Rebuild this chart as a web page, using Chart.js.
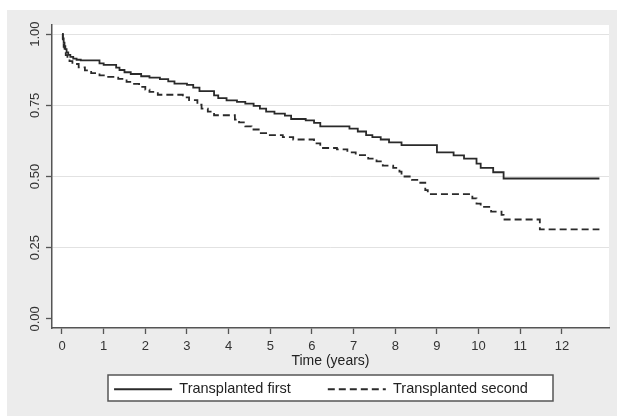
<!DOCTYPE html>
<html>
<head>
<meta charset="utf-8">
<title>Survival by transplant order</title>
<script src="https://cdn.jsdelivr.net/npm/chart.js@4.4.1/dist/chart.umd.min.js"></script>
<style>
  html, body { margin: 0; padding: 0; background: #fff; }
  #km { display: block; }
</style>
</head>
<body>
<canvas id="km" width="618" height="417"></canvas>
<script>
// Kaplan-Meier estimates (time in years, survival)
const firstTimes = [0, 0.02, 0.04, 0.06, 0.08, 0.11, 0.15, 0.2, 0.27, 0.35, 0.45, 0.9, 1.0, 1.3, 1.38,
  1.5, 1.65, 1.9, 2.1, 2.35, 2.55, 2.7, 3.0, 3.15, 3.3, 3.65, 3.75, 3.95, 4.2, 4.4, 4.6, 4.75, 4.9,
  5.1, 5.35, 5.5, 5.85, 6.05, 6.2, 6.9, 7.1, 7.3, 7.45, 7.65, 7.85, 8.15, 9.0, 9.4, 9.65, 9.95,
  10.05, 10.35, 10.6, 12.9];
const firstSurv = [1.0, 0.985, 0.97, 0.958, 0.947, 0.936, 0.927, 0.92, 0.914, 0.91, 0.908, 0.897, 0.892,
  0.882, 0.874, 0.866, 0.86, 0.852, 0.847, 0.842, 0.834, 0.826, 0.822, 0.812, 0.8, 0.785, 0.775,
  0.767, 0.762, 0.756, 0.748, 0.738, 0.728, 0.721, 0.714, 0.702, 0.697, 0.688, 0.676, 0.668, 0.658,
  0.645, 0.638, 0.63, 0.62, 0.61, 0.585, 0.574, 0.563, 0.545, 0.53, 0.515, 0.493, 0.493];

const secondTimes = [0, 0.02, 0.04, 0.06, 0.09, 0.13, 0.18, 0.25, 0.4, 0.55, 0.7, 0.9, 1.05, 1.35, 1.55,
  1.7, 1.85, 2.0, 2.1, 2.3, 2.9, 3.05, 3.25, 3.35, 3.5, 3.65, 4.15, 4.25, 4.4, 4.55, 4.75, 4.9, 5.3,
  5.55, 6.05, 6.2, 6.6, 6.85, 7.05, 7.35, 7.55, 7.7, 7.95, 8.1, 8.15, 8.4, 8.6, 8.72, 8.78, 9.85,
  9.95, 10.05, 10.3, 10.55, 10.6, 11.47, 12.9];
const secondSurv = [1.0, 0.975, 0.955, 0.94, 0.926, 0.914, 0.905, 0.895, 0.883, 0.873, 0.863, 0.855,
  0.85, 0.843, 0.832, 0.825, 0.815, 0.805, 0.797, 0.787, 0.778, 0.768, 0.752, 0.738, 0.728, 0.715,
  0.70, 0.69, 0.676, 0.665, 0.652, 0.645, 0.638, 0.63, 0.616, 0.60, 0.595, 0.585, 0.575, 0.563,
  0.553, 0.538, 0.53, 0.517, 0.50, 0.488, 0.478, 0.452, 0.438, 0.423, 0.405, 0.393, 0.377, 0.365,
  0.349, 0.314, 0.314];

const seriesNames = ['Transplanted first', 'Transplanted second'];
const xTicks = [0, 1, 2, 3, 4, 5, 6, 7, 8, 9, 10, 11, 12];
const yTicks = [0, 0.25, 0.5, 0.75, 1];
const xRange = [-0.24, 13.13];
const yRange = [-0.032, 1.032];

const FONT = "'Liberation Sans', Arial, sans-serif";
const INK = '#2a2a2a';
const AXIS = '#555';

const toPoints = (ts, ss) => ts.map((t, i) => ({ x: t, y: ss[i] }));

// Stata-like backdrop: gray graph region, white plot region, framed legend
const backdrop = {
  id: 'backdrop',
  afterLayout(chart) {
    // park the legend inside its frame, the way Stata places it
    const lg = chart.legend;
    if (!lg) return;
    const h = lg.height;
    lg.left = 33;
    lg.top = 345;
    lg.bottom = 345 + h;
  },
  beforeDraw(chart) {
    const { ctx, chartArea: a } = chart;
    ctx.save();
    ctx.fillStyle = '#fff';
    ctx.fillRect(0, 0, chart.width, chart.height);
    ctx.fillStyle = '#ececec';
    ctx.fillRect(7, 10, 610, 406);
    ctx.fillStyle = '#fff';
    ctx.fillRect(a.left, a.top, a.right - a.left, a.bottom - a.top);
    const cx = (a.left + a.right) / 2;
    ctx.fillRect(cx - 222.5, 375, 445, 26);
    ctx.strokeStyle = AXIS;
    ctx.lineWidth = 1.5;
    ctx.strokeRect(cx - 222.5, 375, 445, 26);
    ctx.restore();
  }
};

new Chart(document.getElementById('km'), {
  type: 'line',
  data: {
    datasets: [
      {
        label: seriesNames[0],
        data: toPoints(firstTimes, firstSurv),
        borderColor: INK,
        borderWidth: 1.8,
        stepped: true,
        pointRadius: 0,
        fill: false
      },
      {
        label: seriesNames[1],
        data: toPoints(secondTimes, secondSurv),
        borderColor: INK,
        borderWidth: 1.8,
        borderDash: [7, 4],
        stepped: true,
        pointRadius: 0,
        fill: false
      }
    ]
  },
  options: {
    responsive: false,
    animation: false,
    devicePixelRatio: 1,
    layout: { padding: { left: 7, right: 9, top: 25, bottom: 0.5 } },
    plugins: {
      tooltip: { enabled: false },
      legend: {
        position: 'bottom',
        labels: {
          usePointStyle: true,
          pointStyle: 'line',
          pointStyleWidth: 58,
          padding: 37,
          color: '#222',
          font: { family: FONT, size: 14.5 },
          // point style legends take dash/width from the point, so copy them from the line
          generateLabels: (chart) =>
            Chart.defaults.plugins.legend.labels.generateLabels(chart).map((item) => {
              const ds = chart.data.datasets[item.datasetIndex];
              item.lineDash = ds.borderDash || [];
              item.lineWidth = ds.borderWidth;
              item.strokeStyle = ds.borderColor;
              return item;
            })
        }
      }
    },
    scales: {
      x: {
        type: 'linear',
        min: xRange[0],
        max: xRange[1],
        afterBuildTicks: (s) => { s.ticks = xTicks.map((v) => ({ value: v })); },
        ticks: {
          padding: 6,
          maxRotation: 0,
          autoSkip: false,
          color: '#333',
          font: { family: FONT, size: 13, lineHeight: 1 }
        },
        grid: { drawOnChartArea: false, tickLength: 6, tickColor: AXIS, tickWidth: 1.3 },
        border: { color: AXIS, width: 1.5 },
        title: {
          display: true,
          text: 'Time (years)',
          color: '#222',
          font: { family: FONT, size: 14, lineHeight: 1 },
          padding: { top: -5, bottom: -13 }
        }
      },
      y: {
        min: yRange[0],
        max: yRange[1],
        afterBuildTicks: (s) => { s.ticks = yTicks.map((v) => ({ value: v })); },
        afterFit: (s) => { s.width = 45; },
        ticks: {
          minRotation: 90,
          maxRotation: 90,
          crossAlign: 'center',
          padding: -2,
          color: '#333',
          font: { family: FONT, size: 13 },
          callback: (v) => Number(v).toFixed(2)
        },
        grid: {
          color: (c) => (c.tick && c.tick.value === 0 ? 'rgba(0,0,0,0)' : '#e2e2e2'),
          lineWidth: 1,
          tickLength: 6,
          tickColor: AXIS,
          tickWidth: 1.3
        },
        border: { color: AXIS, width: 1.5 }
      }
    }
  },
  plugins: [backdrop]
});
</script>
</body>
</html>
